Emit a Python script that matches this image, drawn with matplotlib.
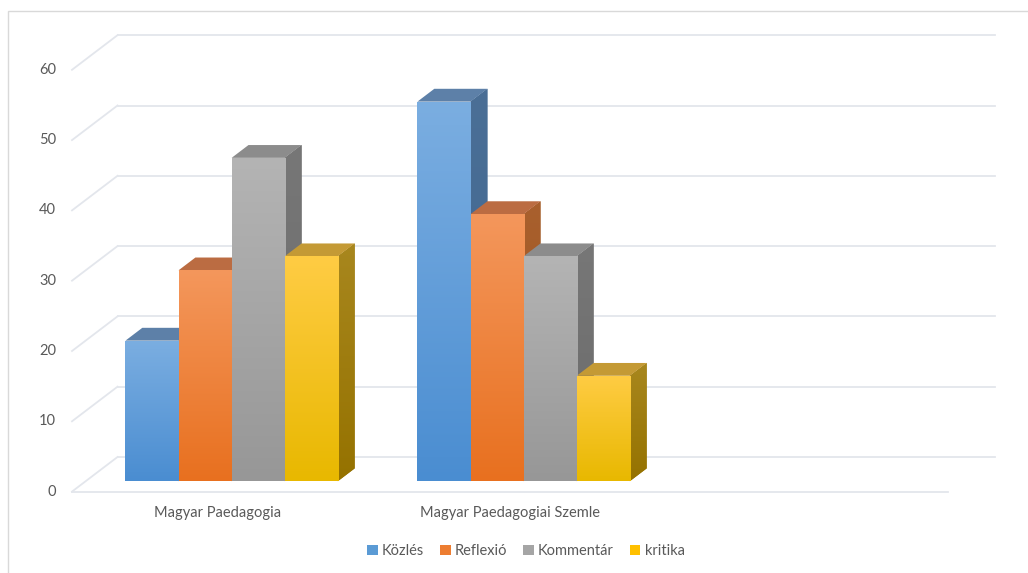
import numpy as np
import matplotlib.pyplot as plt
from matplotlib.patches import Polygon, Rectangle

categories = ['Magyar Paedagogia', 'Magyar Paedagogiai Szemle', '']
series = ['Közlés', 'Reflexió', 'Kommentár', 'kritika']
kozles = [20, 54, 0]
reflexio = [30, 38, 0]
kommentar = [46, 32, 0]
kritika = [32, 15, 0]
values = [kozles, reflexio, kommentar, kritika]
yticks = [0, 10, 20, 30, 40, 50, 60]

# colours: front top, front bottom, top face, side top, side bottom
colors = [
    ('#7BAEE1', '#4A8DD1', '#5D80A8', '#4B6F96', '#3D6590'),
    ('#F4975C', '#E8701F', '#BB6C42', '#A9602E', '#9A5319'),
    ('#B4B4B4', '#979797', '#8C8C8C', '#777777', '#6A6A6A'),
    ('#FFCC44', '#E8B800', '#C49A35', '#A8871E', '#957200'),
]
legend_colors = ['#5B9BD5', '#ED7D31', '#A5A5A5', '#FFC000']
txt = '#595959'
grid = '#E3E6EC'

W, H = 1028, 573
fig = plt.figure(figsize=(W / 100, H / 100), dpi=100)
ax = fig.add_axes([0, 0, 1, 1])

# pixel layout of the oblique projection
px_left, px_cat, py_zero, py_unit = 72, 292, 491.6, 7.03
xlim = (-px_left / px_cat - 0.5, (W - px_left) / px_cat - 0.5)
ylim = ((py_zero - H) / py_unit, py_zero / py_unit)
ax.set_xlim(xlim)
ax.set_ylim(ylim)
ax.axis('off')

Dx, Dy = 45.5 / px_cat, 34.6 / py_unit   # full depth vector in data units
d0, bd = 0.30, 0.37                     # bar front depth, bar depth
w = 1 / 5.5
ncat = len(categories)
x_front_end = (948 - px_left) / px_cat - 0.5
x_back_end = (995 - px_left) / px_cat - 0.5

# back wall gridlines + left side wall diagonals
for v in yticks:
    ax.plot([-0.5 + Dx, x_back_end], [v + Dy, v + Dy], color=grid, lw=1.3, zorder=1)
    ax.plot([-0.5, -0.5 + Dx], [v, v + Dy], color=grid, lw=1.3, zorder=1)
    ax.text(-0.5 - 0.055, v, str(v), ha='right', va='center', color=txt,
            fontsize=10.5, family='Lato')
# floor front edge
ax.plot([-0.5, x_front_end], [0, 0], color=grid, lw=1.3, zorder=1)

for i, cat in enumerate(categories):
    ax.text(i, -3.0, cat, ha='center', va='center', color=txt,
            fontsize=10.5, family='Lato')

grad = np.linspace(0, 1, 256).reshape(-1, 1)
for i in range(ncat):
    for j in range(len(series)):
        val = values[j][i]
        if val == 0:
            continue
        c_ft, c_fb, c_top, c_st, c_sb = colors[j]
        x0 = i + (j - 2) * w + d0 * Dx
        y0 = d0 * Dy
        y1 = y0 + val
        # side face
        side = Polygon([(x0 + w, y0), (x0 + w, y1), (x0 + w + bd * Dx, y1 + bd * Dy),
                        (x0 + w + bd * Dx, y0 + bd * Dy)], closed=True,
                       facecolor=c_sb, edgecolor='none', zorder=3)
        ax.add_patch(side)
        cm = plt.matplotlib.colors.LinearSegmentedColormap.from_list('s', [c_sb, c_st])
        im = ax.imshow(grad, cmap=cm, aspect='auto', origin='lower',
                       extent=(x0 + w, x0 + w + bd * Dx, y0, y1 + bd * Dy), zorder=3)
        im.set_clip_path(side)
        # top face
        ax.add_patch(Polygon([(x0, y1), (x0 + w, y1), (x0 + w + bd * Dx, y1 + bd * Dy),
                              (x0 + bd * Dx, y1 + bd * Dy)], closed=True,
                             facecolor=c_top, edgecolor='none', zorder=3))
        # front face
        bars = ax.bar(x0, val, width=w, bottom=y0, align='edge', color=c_fb,
                      edgecolor='none', zorder=4)
        cm = plt.matplotlib.colors.LinearSegmentedColormap.from_list('f', [c_fb, c_ft])
        im = ax.imshow(grad, cmap=cm, aspect='auto', origin='lower',
                       extent=(x0, x0 + w, y0, y1), zorder=4)
        im.set_clip_path(bars[0])

ax.set_xlim(xlim)
ax.set_ylim(ylim)

# chart area border
fig.patches.append(Rectangle((8 / W, -0.01), 1.02, (H - 11) / H + 0.01,
                             transform=fig.transFigure, fill=False,
                             edgecolor='#D9D9D9', lw=1))

# legend
handles = [Rectangle((0, 0), 1, 1, facecolor=c, edgecolor='none') for c in legend_colors]
fig.legend(handles, series, loc='center', bbox_to_anchor=(526 / W, 1 - 551 / H),
           ncol=4, frameon=False, handlelength=0.7, handleheight=0.7,
           handletextpad=0.3, columnspacing=1.1,
           prop={'family': 'Lato', 'size': 10.5}, labelcolor=txt)

fig.savefig('out.png', dpi=100)
